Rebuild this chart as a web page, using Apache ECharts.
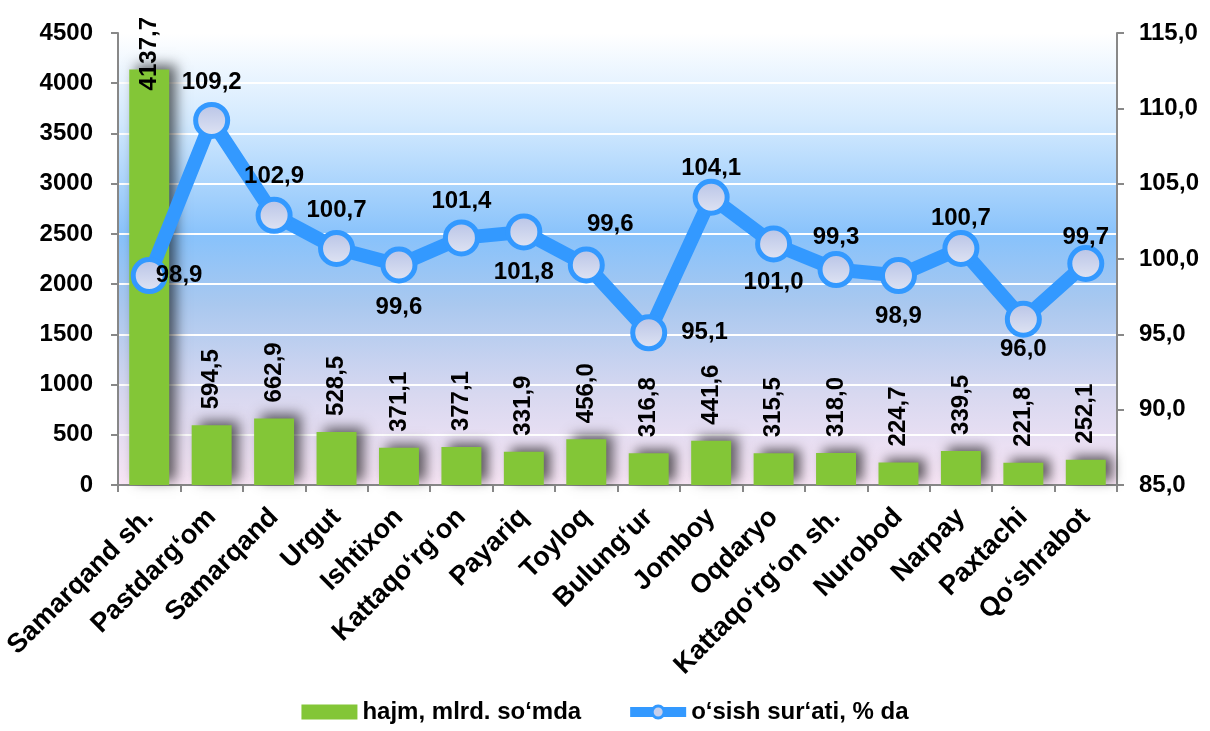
<!DOCTYPE html>
<html>
<head>
<meta charset="utf-8">
<script src="https://cdn.jsdelivr.net/npm/echarts@6/dist/echarts.min.js"></script>
<style>
  html, body { margin: 0; padding: 0; background: #fff; }
  #chart { width: 1210px; height: 731px; }
</style>
</head>
<body>
<div id="chart"></div>
<script>
// ============ 数据 ============
const categories = [
  'Samarqand sh.', 'Pastdarg‘om', 'Samarqand', 'Urgut', 'Ishtixon', 'Kattaqo‘rg‘on',
  'Payariq', 'Toyloq', 'Bulung‘ur', 'Jomboy', 'Oqdaryo', 'Kattaqo‘rg‘on sh.',
  'Nurobod', 'Narpay', 'Paxtachi', 'Qo‘shrabot'
]
const volume = [4137.7, 594.5, 662.9, 528.5, 371.1, 377.1, 331.9, 456.0, 316.8, 441.6, 315.5, 318.0, 224.7, 339.5, 221.8, 252.1]
const growth = [98.9, 109.2, 102.9, 100.7, 99.6, 101.4, 101.8, 99.6, 95.1, 104.1, 101.0, 99.3, 98.9, 100.7, 96.0, 99.7]
const volumeName = 'hajm, mlrd. so‘mda'
const growthName = 'o‘sish sur‘ati, % da'

// ============ 样式 ============
const FONT = '"Liberation Sans", Arial, sans-serif'
const BLUE = '#3399ff'
const GREEN = '#83c637'

const fmt = (v) => Number(v).toFixed(1).replace('.', ',')

// 折线标签位置（按点）
const rateLabelPlace = [
  { position: 'right', distance: -12 },
  { position: 'top', distance: 8 },
  { position: 'top', distance: 8 },
  { position: 'top', distance: 8 },
  { position: 'bottom', distance: 12 },
  { position: 'top', distance: 6 },
  { position: 'bottom', distance: 10 },
  { position: 'top', distance: 10, offset: [24, 0] },
  { position: 'right', distance: 14 },
  { position: 'top', distance: -2 },
  { position: 'bottom', distance: 8 },
  { position: 'top', distance: 2 },
  { position: 'bottom', distance: 10 },
  { position: 'top', distance: 0 },
  { position: 'bottom', distance: 0 },
  { position: 'top', distance: -4 },
]

const chart = echarts.init(document.getElementById('chart'))

const axisText = { fontFamily: FONT, fontWeight: 'bold', fontSize: 24, color: '#000' }

const option = {
  backgroundColor: '#fff',
  textStyle: { fontFamily: FONT },
  grid: {
    left: 118, right: 93, top: 33, bottom: 246,
    show: true,
    borderWidth: 0,
    backgroundColor: new echarts.graphic.LinearGradient(0, 0, 0, 1, [
      { offset: 0, color: '#ffffff' },
      { offset: 0.2, color: '#d2e9fe' },
      { offset: 0.45, color: '#88c2fb' },
      { offset: 0.6, color: '#a9c8ef' },
      { offset: 0.8, color: '#d8d8f0' },
      { offset: 1, color: '#f9e6f6' },
    ]),
  },
  legend: {
    bottom: 2,
    left: 'center',
    itemGap: 44,
    itemWidth: 56,
    itemHeight: 15,
    textStyle: { fontFamily: FONT, fontWeight: 'bold', fontSize: 24, color: '#000' },
    data: [
      { name: volumeName, icon: 'rect' },
      {
        name: growthName,
        lineStyle: { width: 10, color: BLUE },
        itemStyle: { color: '#c8d0ec', borderColor: BLUE, borderWidth: 3 },
      },
    ],
  },
  xAxis: {
    type: 'category',
    data: categories,
    axisLine: { lineStyle: { color: '#888', width: 2 } },
    axisTick: { show: true, length: 7, lineStyle: { color: '#888', width: 2 } },
    axisLabel: Object.assign({ interval: 0, rotate: 45, margin: 28 }, axisText, { fontSize: 27 }),
  },
  yAxis: [
    {
      type: 'value',
      min: 0, max: 4500, interval: 500,
      axisLine: { show: true, lineStyle: { color: '#888', width: 2 } },
      axisTick: { show: true, length: 7, lineStyle: { color: '#888', width: 2 } },
      axisLabel: Object.assign({ margin: 25, formatter: (v) => String(v) }, axisText),
      splitLine: { lineStyle: { color: '#ffffff', width: 2 } },
    },
    {
      type: 'value',
      min: 85, max: 115, interval: 5,
      axisLine: { show: true, lineStyle: { color: '#888', width: 2 } },
      axisTick: { show: true, length: 7, lineStyle: { color: '#888', width: 2 } },
      axisLabel: Object.assign({ margin: 22, formatter: fmt }, axisText),
      splitLine: { show: false },
    },
  ],
  series: [
    {
      name: volumeName,
      type: 'bar',
      barWidth: '64%',
      yAxisIndex: 0,
      itemStyle: {
        color: GREEN,
        shadowColor: 'rgba(0,0,0,0.6)',
        shadowBlur: 12,
        shadowOffsetX: 7,
        shadowOffsetY: -4,
      },
      label: Object.assign({
        show: true,
        position: 'top',
        rotate: 90,
        align: 'left',
        verticalAlign: 'middle',
        distance: 16,
        formatter: (p) => fmt(p.value),
      }, axisText),
      data: volume.map((v, i) => i === 0
        ? { value: v, label: { position: 'insideTop', distance: 21 } }
        : v),
      z: 2,
    },
    {
      name: growthName,
      type: 'line',
      yAxisIndex: 1,
      symbol: 'circle',
      symbolSize: 32,
      lineStyle: { color: BLUE, width: 14 },
      itemStyle: {
        color: new echarts.graphic.LinearGradient(0, 0, 0, 1, [
          { offset: 0, color: '#b6c2e6' },
          { offset: 1, color: '#e2e6f4' },
        ]),
        borderColor: BLUE,
        borderWidth: 5,
      },
      label: Object.assign({
        show: true,
        formatter: (p) => fmt(p.value),
      }, axisText),
      data: growth.map((v, i) => ({ value: v, label: rateLabelPlace[i] })),
      z: 5,
    },
  ],
}

chart.setOption(option)
</script>
</body>
</html>
